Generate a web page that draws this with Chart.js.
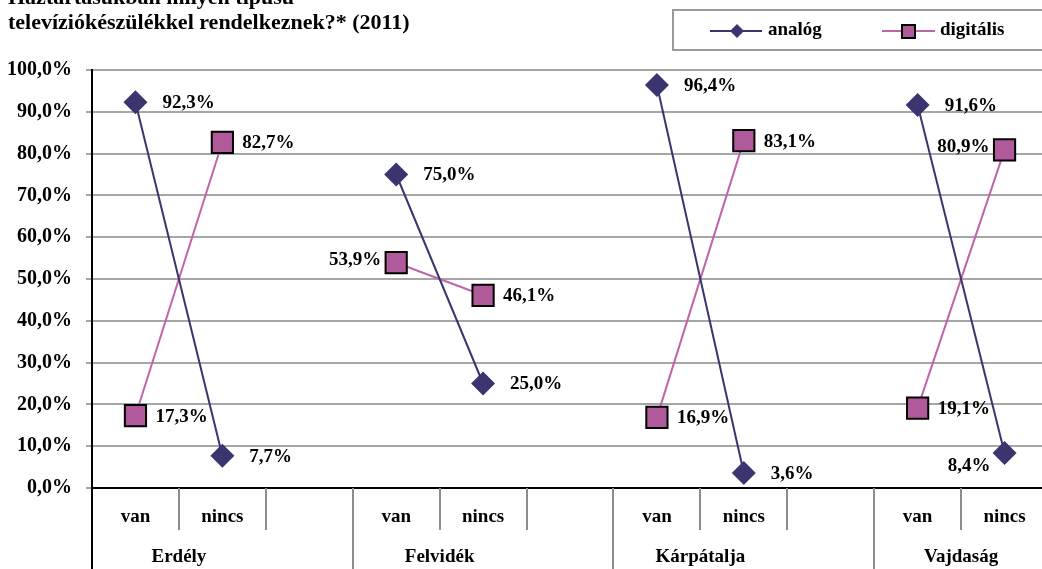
<!DOCTYPE html>
<html>
<head>
<meta charset="utf-8">
<script src="https://cdn.jsdelivr.net/npm/chart.js@4/dist/chart.umd.min.js"></script>
<style>
  html, body { margin: 0; padding: 0; background: #fff; overflow: hidden; }
  #wrap { position: relative; width: 1048px; height: 569px; }
</style>
</head>
<body>
<!-- canvas is a bit wider than the window, the right edge is cut off like in the reference -->
<div id="wrap"><canvas id="chart" width="1048" height="569"></canvas></div>
<script>
// data
var regions = ["Erdély", "Felvidék", "Kárpátalja", "Vajdaság"];
var answers = ["van", "nincs"];
var analogValues = [92.3, 7.7, 75.0, 25.0, 96.4, 3.6, 91.6, 8.4];
var digitalValues = [17.3, 82.7, 53.9, 46.1, 16.9, 83.1, 19.1, 80.9];
var yTicks = [0, 10, 20, 30, 40, 50, 60, 70, 80, 90, 100];
var titleLines = ["Háztartásukban milyen típusú", "televíziókészülékkel rendelkeznek?* (2011)"];

// where the value labels sit relative to their point
var analogSide = ["right", "right", "right", "right", "right", "right", "right", "leftBelow"];
var digitalSide = ["right", "right", "left", "right", "right", "right", "right", "left"];

var FONT = "'Liberation Serif', 'DejaVu Serif', serif";
var ANALOG = "#3a356f";
var DIGITAL_LINE = "#c064a8";
var DIGITAL_FILL = "#b15a9b";

// 11 slots: van, nincs, gap per region (no gap after the last one)
var labels = [], groupOf = [], analogData = [], digitalData = [];
var aSide = [], dSide = [];
for (var g = 0; g < regions.length; g++) {
  for (var a = 0; a < answers.length; a++) {
    labels.push(answers[a]);
    groupOf.push(g);
    analogData.push(analogValues[g * 2 + a]);
    digitalData.push(digitalValues[g * 2 + a]);
    aSide.push(analogSide[g * 2 + a]);
    dSide.push(digitalSide[g * 2 + a]);
  }
  if (g < regions.length - 1) {
    labels.push("");
    groupOf.push(g);
    analogData.push(null);
    digitalData.push(null);
    aSide.push(null);
    dSide.push(null);
  }
}

function fmt(v) {
  return v.toFixed(1).replace(".", ",") + "%";
}

var extrasPlugin = {
  id: "extras",
  afterDraw: function(chart) {
    var ctx = chart.ctx;
    var area = chart.chartArea;
    var x = chart.scales.x;
    var H = chart.height;
    var slot = (area.right - area.left) / labels.length;
    ctx.save();

    // separators under the x axis
    ctx.strokeStyle = "#8c8c8c";
    ctx.lineWidth = 2;
    for (var i = 1; i < labels.length; i++) {
      var sx = Math.round(area.left + slot * i);
      var longLine = groupOf[i] !== groupOf[i - 1];
      ctx.beginPath();
      ctx.moveTo(sx, area.bottom);
      ctx.lineTo(sx, longLine ? H : area.bottom + 42);
      ctx.stroke();
    }
    // left axis continues down
    ctx.strokeStyle = "#000";
    ctx.beginPath();
    ctx.moveTo(area.left, area.top);
    ctx.lineTo(area.left, H);
    ctx.stroke();

    // region names
    ctx.fillStyle = "#000";
    ctx.font = "bold 19px " + FONT;
    ctx.textAlign = "center";
    ctx.textBaseline = "middle";
    for (var g = 0; g < regions.length; g++) {
      var first = groupOf.indexOf(g);
      var cx = (x.getPixelForValue(first) + x.getPixelForValue(first + 1)) / 2;
      ctx.fillText(regions[g], cx, 557);
    }

    // value labels
    ctx.font = "bold 19px " + FONT;
    var sets = [[0, aSide, 27], [1, dSide, 20]];
    sets.forEach(function(s) {
      var meta = chart.getDatasetMeta(s[0]);
      meta.data.forEach(function(pt, idx) {
        var v = chart.data.datasets[s[0]].data[idx];
        if (v === null) return;
        var side = s[1][idx];
        if (side === "right") {
          ctx.textAlign = "left";
          ctx.fillText(fmt(v), pt.x + s[2], pt.y + 1);
        } else if (side === "left") {
          ctx.textAlign = "right";
          ctx.fillText(fmt(v), pt.x - 15, pt.y - 3);
        } else {
          ctx.textAlign = "right";
          ctx.fillText(fmt(v), pt.x - 14, pt.y + 13);
        }
      });
    });

    // title (top line cut by the page edge)
    ctx.textAlign = "left";
    ctx.textBaseline = "alphabetic";
    ctx.font = "bold 22px " + FONT;
    ctx.fillText(titleLines[0], 8, 4);
    ctx.fillText(titleLines[1], 8, 29);

    // legend box
    ctx.strokeStyle = "#9a9a9a";
    ctx.lineWidth = 2;
    ctx.strokeRect(673, 10, 400, 40);
    ctx.font = "bold 19px " + FONT;
    ctx.textBaseline = "middle";
    // analog item
    ctx.strokeStyle = ANALOG;
    ctx.beginPath(); ctx.moveTo(710, 31); ctx.lineTo(762, 31); ctx.stroke();
    ctx.fillStyle = ANALOG;
    ctx.beginPath();
    ctx.moveTo(737, 24); ctx.lineTo(744, 31); ctx.lineTo(737, 38); ctx.lineTo(730, 31);
    ctx.closePath(); ctx.fill();
    ctx.fillStyle = "#000";
    ctx.fillText("analóg", 768, 30);
    // digital item
    ctx.strokeStyle = DIGITAL_LINE;
    ctx.beginPath(); ctx.moveTo(882, 31); ctx.lineTo(935, 31); ctx.stroke();
    ctx.fillStyle = DIGITAL_FILL;
    ctx.fillRect(902, 25, 13, 13);
    ctx.strokeStyle = "#000";
    ctx.strokeRect(902, 25, 13, 13);
    ctx.fillStyle = "#000";
    ctx.fillText("digitális", 940, 30);

    ctx.restore();
  }
};

new Chart(document.getElementById("chart"), {
  type: "line",
  data: {
    labels: labels,
    datasets: [{
      label: "analóg",
      data: analogData,
      borderColor: ANALOG,
      backgroundColor: ANALOG,
      borderWidth: 2,
      pointStyle: "rectRot",
      pointRadius: 12,
      pointHoverRadius: 12,
      pointBorderWidth: 0,
      pointBorderColor: ANALOG,
      spanGaps: false,
      tension: 0
    }, {
      label: "digitális",
      data: digitalData,
      borderColor: DIGITAL_LINE,
      backgroundColor: DIGITAL_FILL,
      borderWidth: 2,
      pointStyle: "rect",
      pointRadius: 15,
      pointHoverRadius: 15,
      pointBorderWidth: 2,
      pointBorderColor: "#000",
      spanGaps: false,
      tension: 0
    }]
  },
  options: {
    responsive: false,
    animation: false,
    devicePixelRatio: 1,
    layout: { autoPadding: false, padding: { top: 70, right: 0, left: 0, bottom: 0 } },
    plugins: {
      legend: { display: false },
      title: { display: false },
      tooltip: { enabled: false }
    },
    scales: {
      x: {
        offset: true,
        grid: { display: false, drawTicks: false },
        border: { display: true, color: "#000", width: 2 },
        ticks: {
          color: "#000",
          font: { family: FONT, size: 19, weight: "bold" },
          padding: 18,
          maxRotation: 0,
          autoSkip: false
        },
        afterFit: function(scale) {
          scale.height = 81;
          scale.paddingLeft = 0;
          scale.paddingRight = 0;
        }
      },
      y: {
        min: 0,
        max: 100,
        afterBuildTicks: function(scale) {
          scale.ticks = yTicks.map(function(v) { return { value: v }; });
        },
        grid: { color: "#a6a6a6", lineWidth: 2, tickLength: 6, drawTicks: true },
        border: { display: true, color: "#000", width: 2 },
        ticks: {
          color: "#000",
          padding: 14,
          font: { family: FONT, size: 20, weight: "bold" },
          callback: function(v) { return fmt(v); }
        },
        afterFit: function(scale) {
          scale.width = 92;
          scale.paddingTop = 0;
          scale.paddingBottom = 0;
        }
      }
    }
  },
  plugins: [extrasPlugin]
});
</script>
</body>
</html>
